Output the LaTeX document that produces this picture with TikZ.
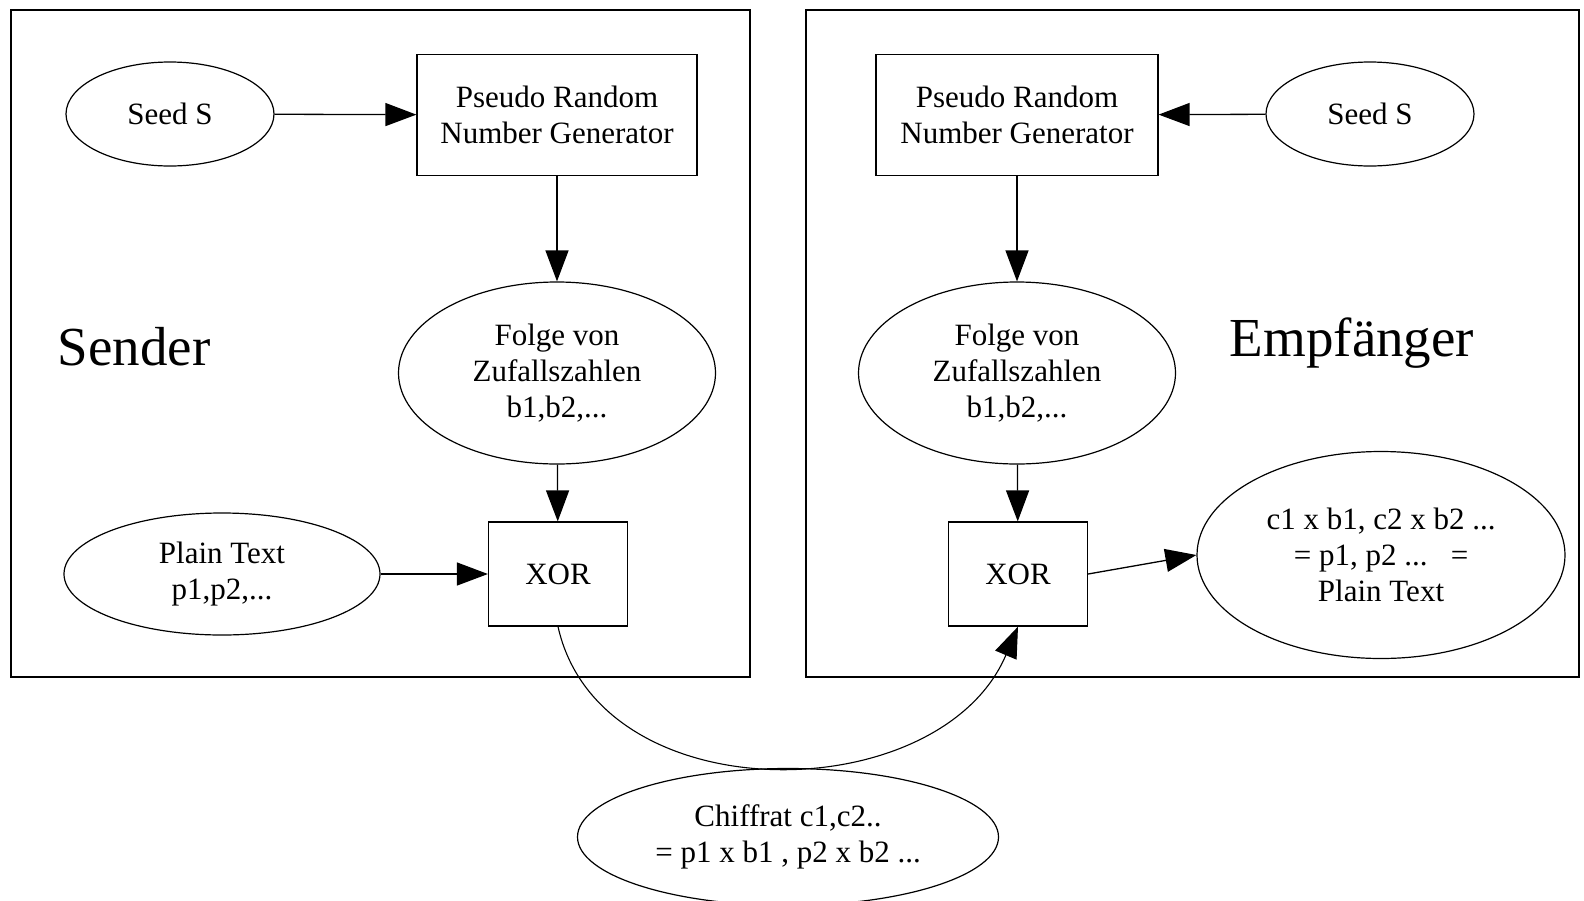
\documentclass[tikz,border=0pt]{standalone}
\usepackage{fontspec}
\setmainfont{Liberation Serif}
\usetikzlibrary{shapes.geometric,arrows.meta}
\begin{document}
\begin{tikzpicture}[x=1pt,y=-1pt,
  every node/.style={font=\fontsize{31}{36}\selectfont, align=center, inner sep=0pt},
  oval/.style={draw, ellipse, line width=1.2pt},
  boxnode/.style={draw, rectangle, line width=1.2pt},
  panel/.style={draw, line width=1.4pt},
  big/.style={font=\fontsize{55}{60}\selectfont},
  link/.style={line width=1.3pt, -{Triangle[length=31pt,width=23pt]}},
  curvelink/.style={line width=1.1pt, -{Triangle[length=31pt,width=23pt]}}
]
\useasboundingbox (0,0) rectangle (1584,900);
\fill[white] (0,0) rectangle (1584,900);
% panels
\draw[panel] (11,10) rectangle (750,677);
\draw[panel] (806,10) rectangle (1579,677);
% sender side
\node[oval, minimum width=208pt, minimum height=104pt] (seedL) at (170,114) {Seed S};
\node[boxnode, minimum width=280pt, minimum height=121pt] (prngL) at (557,115) {Pseudo Random\\Number Generator};
\node[oval, minimum width=317pt, minimum height=182pt] (folgeL) at (557,373) {Folge von\\Zufallszahlen\\b1,b2,...};
\node[big] (sender) at (134,347) {Sender};
\node[oval, minimum width=316pt, minimum height=122pt] (plainL) at (222,574) {Plain Text\\p1,p2,...};
\node[boxnode, minimum width=139pt, minimum height=104pt] (xorL) at (558,574) {XOR};
% receiver side
\node[boxnode, minimum width=282pt, minimum height=121pt] (prngR) at (1017,115) {Pseudo Random\\Number Generator};
\node[oval, minimum width=208pt, minimum height=104pt] (seedR) at (1370,114) {Seed S};
\node[oval, minimum width=317pt, minimum height=182pt] (folgeR) at (1017,373) {Folge von\\Zufallszahlen\\b1,b2,...};
\node[big] (empf) at (1352,343) {Empfänger};
\node[boxnode, minimum width=139pt, minimum height=104pt] (xorR) at (1018,574) {XOR};
\node[oval, minimum width=368pt, minimum height=207pt] (result) at (1381,555) {c1 x b1, c2 x b2 ...\\= p1, p2 ...\ \ \ =\\Plain Text};
% cipher
\node[oval, minimum width=421pt, minimum height=137pt] (chiffrat) at (788,837) {Chiffrat c1,c2..\\= p1 x b1 , p2 x b2 ...};
% connectors
\draw[link] (seedL) -- (prngL);
\draw[link] (prngL) -- (folgeL);
\draw[link] (folgeL) -- (xorL);
\draw[link] (plainL) -- (xorL);
\draw[link] (seedR) -- (prngR);
\draw[link] (prngR) -- (folgeR);
\draw[link] (folgeR) -- (xorR);
\draw[link] (xorR.east) -- (result.west);
\draw[curvelink] (xorL.south) .. controls (600,815) and (940,810) .. (xorR.south);
\end{tikzpicture}
\end{document}
